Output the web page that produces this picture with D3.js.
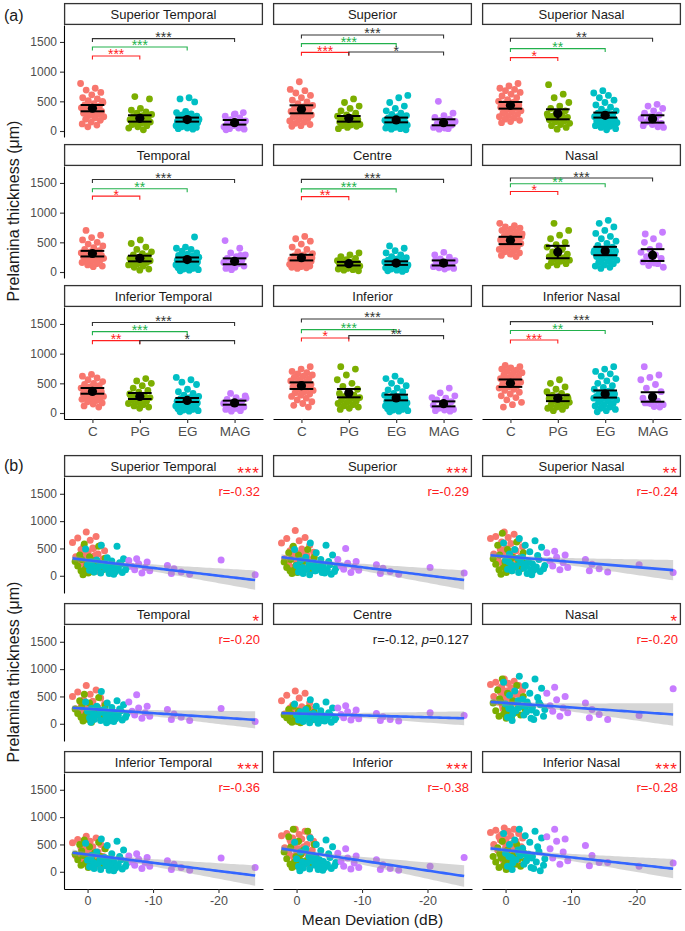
<!DOCTYPE html>
<html><head><meta charset="utf-8">
<script src="https://cdn.jsdelivr.net/npm/d3@7"></script>
<style>body{margin:0;background:#fff;} svg{display:block;font-family:"Liberation Sans",Arial,sans-serif;}</style>
</head><body><svg id="c" width="685" height="931"></svg>
<script>
// ---------------- data ----------------
const regions = ["Superior Temporal","Superior","Superior Nasal","Temporal","Centre","Nasal","Inferior Temporal","Inferior","Inferior Nasal"];
const groups = ["C","PG","EG","MAG"];
const groupColors = ["#F8766D","#7CAE00","#00BFC4","#C77CFF"];

// Mean deviation (dB) per subject
const mdC = [0.2,-1.3,1.5,-0.4,2.3,-2.0,0.6,-0.8,1.0,-2.6,-0.1,0.8,-1.6,0.3,-1.1,1.8,-0.5,-2.4,0.0,-1.4,1.2,-0.7,-1.8,0.5,-2.2,-0.3,0.4,-1.0,-1.9,-0.9];
const mdPG = [0.5,-1.7,1.2,-0.3,-2.7,0.9,-1.1,1.9,-0.7,-2.0,0.1,-3.0,1.5,-0.5,-1.4,0.3,-2.3,1.0,-0.9,-0.1,0.7,-0.6];
const mdEG = [-2.1,-4.5,0.3,-3.0,-5.5,-1.4,-3.7,-0.6,-4.9,-2.6,-1.9,-5.1,0.0,-3.5,-2.3,-4.1,-0.9,-6.0,-1.6,-3.2,-4.7,-1.1,-2.8,-5.8,-0.3,-3.9,-4.3,-1.0,-5.3,-2.0,-3.3,-4.0,-0.5,-2.9];
const mdMAG = [-7.5,-6.3,-9.1,-7.8,-12.2,-6.8,-8.8,-13.2,-7.2,-9.5,-14.3,-8.3,-12.8,-15.6,-20.4,-25.6];

// Prelamina thickness (um) per region: [C, PG, EG, MAG]
const thST = [
 [800,720,690,650,610,560,540,510,480,460,440,420,400,390,370,350,330,310,300,280,260,240,220,200,180,150,120,100,70,500],
 [580,540,380,350,320,300,280,260,240,220,200,190,180,170,150,130,110,90,70,50,20,160],
 [560,540,490,330,310,290,270,250,240,230,220,210,200,190,180,175,170,160,150,145,140,130,120,110,100,90,80,70,60,50,40,30,250,180],
 [310,280,250,220,190,170,150,130,110,90,70,50,40,30,290,20]];
const thSup = [
 [830,700,680,640,600,560,520,490,460,430,410,390,370,350,330,310,290,270,250,230,210,190,170,150,130,110,90,80,300,420],
 [540,480,420,380,340,300,270,250,230,210,190,170,150,130,120,110,100,90,80,60,40,200],
 [600,560,480,420,380,340,300,280,260,240,220,200,190,180,170,160,150,140,130,120,110,100,90,80,70,60,50,40,30,20,150,200,130,90],
 [500,300,260,230,200,180,160,140,120,100,80,60,40,30,150,50]];
const thSN = [
 [800,760,720,700,680,650,620,590,560,530,500,480,460,440,420,400,380,360,340,320,300,280,260,240,220,200,180,160,140,450],
 [780,620,560,480,420,380,340,310,290,270,250,230,210,190,170,150,130,110,90,60,30,250],
 [680,640,600,560,520,480,440,400,370,340,320,300,280,260,240,220,200,190,180,170,160,150,140,130,120,110,100,90,80,60,40,20,250,210],
 [450,420,380,340,300,270,240,210,180,150,130,110,90,70,200,60]];
const thTemp = [
 [700,620,580,540,500,470,440,410,380,360,340,320,300,290,280,270,260,250,240,230,220,210,200,180,160,140,120,100,90,310],
 [540,480,420,380,340,310,290,270,250,230,210,200,190,180,170,160,140,120,100,80,50,30],
 [590,420,400,380,350,320,300,280,270,260,250,240,230,220,210,200,190,180,170,160,150,140,130,120,110,100,90,80,70,60,50,40,30,20],
 [530,400,320,290,260,230,200,180,160,140,120,100,80,60,280,40]];
const thCentre = [
 [600,560,520,470,420,380,340,310,290,270,250,230,210,200,190,180,170,160,150,140,130,120,110,100,90,80,70,60,240,200],
 [320,290,260,230,210,190,170,160,150,140,130,120,110,100,90,80,70,60,50,40,30,20],
 [440,400,360,320,290,260,240,220,200,190,180,170,160,150,140,130,120,110,100,95,90,85,80,75,70,60,50,40,30,20,10,150,120,100],
 [330,290,250,220,190,170,150,130,110,90,80,70,60,50,200,150]];
const thNasal = [
 [820,780,760,740,720,700,680,660,640,620,600,580,560,540,520,500,480,460,440,420,400,380,360,340,320,300,280,260,540,600],
 [820,700,620,560,500,460,420,380,340,300,280,260,240,220,200,180,160,140,120,100,400,300],
 [870,820,760,700,650,600,560,520,480,450,420,390,360,340,320,300,280,260,240,220,200,180,160,140,120,100,80,60,350,300,400,250,280,330],
 [670,560,500,440,380,330,290,260,230,200,170,140,110,80,150,640]];
const thIT = [
 [650,620,590,560,530,500,480,460,440,420,400,380,360,340,320,300,290,280,270,260,250,240,230,210,190,170,150,120,100,380],
 [580,540,500,460,420,380,350,320,300,280,260,240,220,200,180,160,140,120,100,80,300,250],
 [600,560,520,480,400,360,330,300,280,260,240,220,210,200,190,180,170,160,150,140,130,120,110,100,90,80,70,60,50,40,30,20,250,200],
 [330,290,260,230,200,180,160,140,120,100,80,60,40,30,250,80]];
const thInf = [
 [780,740,700,680,660,640,620,600,580,560,540,520,500,480,460,440,420,400,380,360,340,320,300,280,250,220,190,160,130,100],
 [780,740,640,560,500,450,400,360,330,300,280,260,240,220,200,180,160,140,120,100,80,60],
 [620,580,540,500,460,420,390,360,330,300,280,260,240,220,200,190,180,170,160,150,140,130,120,110,100,90,80,70,60,50,40,30,20,250],
 [420,340,290,250,220,190,160,130,100,80,60,50,40,30,100,260]];
const thIN = [
 [800,780,760,740,720,700,680,660,640,620,600,580,560,540,520,500,480,460,440,420,400,380,350,320,290,260,220,180,140,100],
 [560,500,440,400,360,330,300,280,260,240,220,200,180,160,140,120,100,80,60,40,250,200],
 [780,740,700,660,620,580,540,500,460,430,400,370,340,320,300,280,260,240,220,200,180,160,140,120,100,80,60,40,20,350,300,250,280,330],
 [780,640,600,560,480,420,360,300,250,200,170,140,110,170,100,160]];

// group means and 95% CI per region (order of regions)
const meanC = [383,366,433,312,240,537,364,460,500];
const meanPG = [214,214,293,230,140,339,280,337,250];
const meanEG = [192,186,265,210,150,356,212,253,320];
const meanMAG = [141,141,208,180,150,283,169,157,270];
const ciC = [[332,438],[298,433],[377,489],[262,356],[195,290],[470,593],[325,421],[405,516],[440,565]];
const ciPG = [[158,265],[158,253],[197,366],[180,275],[110,170],[232,441],[236,337],[264,405],[200,300]];
const ciEG = [[158,226],[146,226],[226,310],[175,245],[120,180],[283,424],[185,253],[213,309],[260,380]];
const ciMAG = [[108,185],[96,197],[141,265],[130,230],[110,195],[186,385],[140,208],[112,196],[190,350]];

// significance brackets per region: [from, to, y (um), label, colour]
const brST = [["C","MAG",1557,"***","k"],["C","EG",1416,"***","g"],["C","PG",1264,"***","r"]];
const brSup = [["C","MAG",1618,"***","k"],["C","EG",1473,"***","g"],["C","PG",1325,"***","r"],["PG","MAG",1330,"*","k"]];
const brSN = [["C","MAG",1562,"**","k"],["C","EG",1388,"**","g"],["C","PG",1237,"*","r"]];
const brTemp = [["C","MAG",1559,"***","k"],["C","EG",1402,"**","g"],["C","PG",1278,"*","r"]];
const brCentre = [["C","MAG",1560,"***","k"],["C","EG",1400,"***","g"],["C","PG",1270,"**","r"]];
const brNasal = [["C","MAG",1583,"***","k"],["C","EG",1486,"**","g"],["C","PG",1356,"*","r"]];
const brIT = [["C","MAG",1525,"***","k"],["C","EG",1371,"***","g"],["C","PG",1219,"**","r"],["PG","MAG",1219,"*","k"]];
const brInf = [["C","MAG",1584,"***","k"],["C","EG",1404,"***","g"],["C","PG",1264,"*","r"],["PG","MAG",1303,"**","k"]];
const brIN = [["C","MAG",1540,"***","k"],["C","EG",1390,"**","g"],["C","PG",1230,"***","r"]];

// correlation (panel b)
const lineIntercept = [285,306,354,274,187,381,315,382,397];
const lineSlope = [14.2,15.0,9.8,7.9,3.4,8.2,15.0,18.0,13.3];
const residSD = [180,180,190,160,130,210,190,200,180];
const rText = ["r=-0.32","r=-0.29","r=-0.24","r=-0.20","r=-0.12, |p|=0.127","r=-0.20","r=-0.36","r=-0.38","r=-0.28"];
const rSignificant = [true,true,true,true,false,true,true,true,true];
const sigStars = ["***","***","**","*","","*","***","***","***"];

const yTicksA = [0,500,1000,1500];
const xTicksB = [0,-10,-20];

// ---------------- drawing ----------------
const svg = d3.select("#c");
const colX = [64,273,482], panelW = 199, stripH = 22;
const A = {stripTop:[3,144,285], plotH:112, yDomain:[-101,1786]};
const B = {stripTop:[455,603,751], plotH:116, yDomain:[-315,1807], xDomain:[3.6,-26.8]};
const thickness = [thST,thSup,thSN,thTemp,thCentre,thNasal,thIT,thInf,thIN];
const brackets = [brST,brSup,brSN,brTemp,brCentre,brNasal,brIT,brInf,brIN];
const mdAll = [mdC,mdPG,mdEG,mdMAG];
const means = [meanC,meanPG,meanEG,meanMAG];
const cis = [ciC,ciPG,ciEG,ciMAG];
const brCol = {k:"#333333", g:"#22B14C", r:"#FF2020"};
const sigRed = "#FF2020";

const allMD = mdAll.flat();
const nAll = allMD.length, xbar = d3.mean(allMD);
const Sxx = d3.sum(allMD, d => (d - xbar) ** 2);
const mdMax = d3.max(allMD), mdMin = d3.min(allMD);

function strip(x0, top, label) {
  svg.append("rect").attr("x", x0 + 0.6).attr("y", top + 0.6).attr("width", panelW - 1.2).attr("height", stripH - 1.2)
    .attr("fill", "#fff").attr("stroke", "#333").attr("stroke-width", 1.3);
  svg.append("text").attr("x", x0 + panelW / 2).attr("y", top + stripH / 2 + 4.6).attr("text-anchor", "middle")
    .attr("font-size", 13).attr("fill", "#1a1a1a").text(label);
}
function styleAxis(g, fs) {
  g.select(".domain").attr("stroke", "#000").attr("stroke-width", 1.1);
  g.selectAll(".tick line").attr("stroke", "#333").attr("stroke-width", 1.1);
  g.selectAll(".tick text").attr("fill", "#4d4d4d").attr("font-size", fs).attr("font-family", "Liberation Sans, Arial, sans-serif");
}

regions.forEach((name, ri) => {
  const col = ri % 3, row = Math.floor(ri / 3), x0 = colX[col];
  // ======== Panel (a) ========
  {
    const st = A.stripTop[row], top = st + stripH, bottom = top + A.plotH;
    const y = d3.scaleLinear().domain(A.yDomain).range([bottom, top]);
    const x = d3.scalePoint().domain(groups).range([x0, x0 + panelW]).padding(0.6);
    const step = x.step();
    strip(x0, st, name);
    groups.forEach((gname, gi) => {
      thickness[ri][gi].forEach((v, i) => {
        const jit = (((i * 0.6180339 + gi * 0.29 + ri * 0.41) % 1) - 0.5) * 2 * 0.25 * step;
        svg.append("circle").attr("cx", x(gname) + jit).attr("cy", y(v)).attr("r", 3.4).attr("fill", groupColors[gi]);
      });
    });
    groups.forEach((gname, gi) => {
      const cx = x(gname), [lo, hi] = cis[gi][ri], half = 0.25 * step;
      svg.append("line").attr("x1", cx).attr("x2", cx).attr("y1", y(lo)).attr("y2", y(hi)).attr("stroke", "#000").attr("stroke-width", 2);
      [lo, hi].forEach(v => svg.append("line").attr("x1", cx - half).attr("x2", cx + half).attr("y1", y(v)).attr("y2", y(v)).attr("stroke", "#000").attr("stroke-width", 2));
      svg.append("circle").attr("cx", cx).attr("cy", y(means[gi][ri])).attr("r", 4.6).attr("fill", "#000");
    });
    brackets[ri].forEach(([g1, g2, yv, lab, c]) => {
      const x1 = x(g1), x2 = x(g2), yy = y(yv), tip = 3.5;
      svg.append("path").attr("d", `M${x1},${yy + tip}L${x1},${yy}L${x2},${yy}L${x2},${yy + tip}`)
        .attr("fill", "none").attr("stroke", brCol[c]).attr("stroke-width", 1.1);
      svg.append("text").attr("x", (x1 + x2) / 2).attr("y", yy + 3.5).attr("text-anchor", "middle")
        .attr("font-size", 14).attr("fill", brCol[c]).text(lab);
    });
    if (col === 0) {
      const g = svg.append("g").attr("transform", `translate(${x0},0)`)
        .call(d3.axisLeft(y).tickValues(yTicksA).tickFormat(d => String(d)).tickSize(4).tickPadding(3).tickSizeOuter(0));
      styleAxis(g, 12);
    }
    if (row === 2) {
      const g = svg.append("g").attr("transform", `translate(0,${bottom})`)
        .call(d3.axisBottom(x).tickSize(4).tickPadding(3).tickSizeOuter(0));
      styleAxis(g, 13.5);
    }
  }
  // ======== Panel (b) ========
  {
    const st = B.stripTop[row], top = st + stripH, bottom = top + B.plotH;
    const y = d3.scaleLinear().domain(B.yDomain).range([bottom, top]);
    const x = d3.scaleLinear().domain(B.xDomain).range([x0, x0 + panelW]);
    strip(x0, st, name);
    if (sigStars[ri]) {
      svg.append("text").attr("x", x0 + panelW - 3).attr("y", top + 2).attr("text-anchor", "end")
        .attr("font-size", 17).attr("letter-spacing", 1).attr("fill", sigRed).text(sigStars[ri]);
    }
    const clipId = "clip" + ri;
    svg.append("clipPath").attr("id", clipId).append("rect").attr("x", x0).attr("y", top).attr("width", panelW).attr("height", B.plotH);
    const pg = svg.append("g").attr("clip-path", `url(#${clipId})`);
    groups.forEach((gname, gi) => {
      thickness[ri][gi].forEach((v, i) => {
        pg.append("circle").attr("cx", x(mdAll[gi][i])).attr("cy", y(v)).attr("r", 3.5).attr("fill", groupColors[gi]);
      });
    });
    const xs = d3.range(0, 61).map(k => mdMax + (mdMin - mdMax) * k / 60);
    const fit = xv => lineIntercept[ri] + lineSlope[ri] * xv;
    const halfW = xv => 1.98 * residSD[ri] * Math.sqrt(1 / nAll + (xv - xbar) ** 2 / Sxx);
    pg.append("path").datum(xs).attr("d", d3.area().x(d => x(d)).y0(d => y(fit(d) - halfW(d))).y1(d => y(fit(d) + halfW(d))))
      .attr("fill", "#999999").attr("fill-opacity", 0.4);
    pg.append("path").datum(xs).attr("d", d3.line().x(d => x(d)).y(d => y(fit(d))))
      .attr("fill", "none").attr("stroke", "#3366FF").attr("stroke-width", 2.6);
    const t = svg.append("text").attr("x", x0 + panelW - 3).attr("y", top + 19).attr("text-anchor", "end")
      .attr("font-size", 13).attr("fill", rSignificant[ri] ? sigRed : "#1a1a1a");
    rText[ri].split("|").forEach((part, k) => {
      t.append("tspan").attr("font-style", k === 1 ? "italic" : null).text(part);
    });
    if (col === 0) {
      const g = svg.append("g").attr("transform", `translate(${x0},0)`)
        .call(d3.axisLeft(y).tickValues(yTicksA).tickFormat(d => String(d)).tickSize(4).tickPadding(3).tickSizeOuter(0));
      styleAxis(g, 12);
    }
    if (row === 2) {
      const g = svg.append("g").attr("transform", `translate(0,${bottom})`)
        .call(d3.axisBottom(x).tickValues(xTicksB).tickFormat(d => String(d)).tickSize(4).tickPadding(3).tickSizeOuter(0));
      styleAxis(g, 12.5);
    }
  }
});

// titles
svg.append("text").attr("x", 4).attr("y", 21).attr("font-size", 16).attr("fill", "#1a1a1a").text("(a)");
svg.append("text").attr("x", 4).attr("y", 471).attr("font-size", 16).attr("fill", "#1a1a1a").text("(b)");
[211, 672].forEach(cy => {
  svg.append("text").attr("transform", `translate(13,${cy}) rotate(-90)`).attr("text-anchor", "middle")
    .attr("dominant-baseline", "central").attr("font-size", 16).attr("fill", "#1a1a1a").text("Prelamina thickness (μm)");
});
svg.append("text").attr("x", (colX[0] + colX[2] + panelW) / 2).attr("y", 925).attr("text-anchor", "middle")
  .attr("font-size", 15.5).attr("fill", "#1a1a1a").text("Mean Deviation (dB)");
</script></body></html>
